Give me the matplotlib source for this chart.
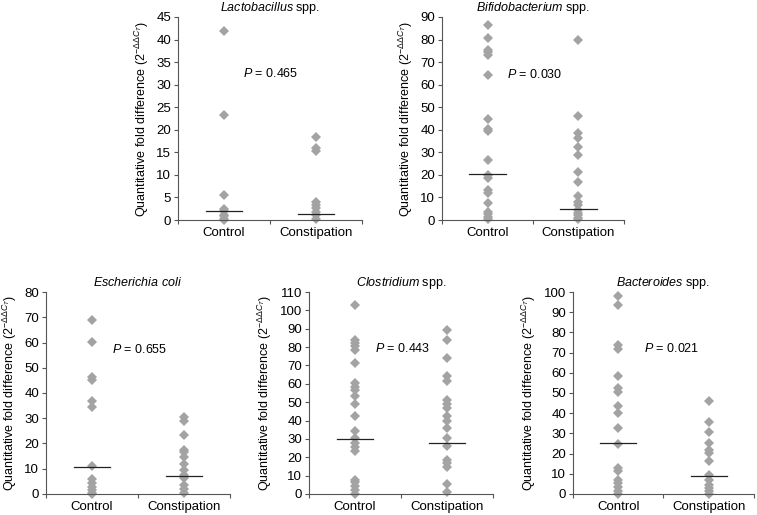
import matplotlib
matplotlib.use('Agg')
import matplotlib.pyplot as plt
import numpy as np

plt.rcParams['font.family'] = ['Liberation Sans', 'DejaVu Sans']
plt.rcParams['mathtext.fontset'] = 'custom'
plt.rcParams['mathtext.rm'] = 'Liberation Sans'
plt.rcParams['mathtext.it'] = 'Liberation Sans:italic'

groups = ['Control', 'Constipation']

# Lactobacillus spp.
lacto_control = [41.9, 23.3, 5.6, 2.5, 2.1, 1.2, 0.8, 0.3, 0.1]
lacto_const = [18.5, 15.9, 15.2, 4.1, 3.3, 2.6, 1.8, 1.1, 0.2]
lacto_median = [2.1, 1.25]

# Bifidobacterium spp.
bifido_control = [86.5, 80.5, 75.5, 74.5, 73, 64.5, 45, 40.5, 39.5, 26.5, 20,
                  18.5, 13.5, 12, 7.5, 3.5, 2.5, 1.5, 0.5]
bifido_const = [80, 46, 38.5, 36.5, 32.5, 29, 21.5, 17, 10.5, 8, 6.5, 4.5, 3,
                2, 1, 0.3]
bifido_median = [20.3, 4.7]

# Escherichia coli
ecoli_control = [69, 60.3, 46.5, 45, 37, 34.5, 11, 5.9, 4.5, 2.6, 1.5, 0.5, 0.1]
ecoli_const = [30.5, 29, 23.5, 17.5, 16.5, 14.5, 12, 9.5, 7.5, 6.5, 3.5, 2, 0.5]
ecoli_median = [10.7, 7.2]

# Clostridium spp.
clost_control = [102.7, 84, 82.2, 80.4, 78.6, 71.3, 60.4, 58.3, 56.8, 53.2, 49,
                 42.3, 34.1, 30.5, 27.8, 25.4, 23.2, 7.8, 6.5, 4.2, 2.4, 0.2]
clost_const = [89.1, 83.7, 74, 64.4, 61.7, 51.4, 49.2, 46.8, 42.3, 39.6, 35.9,
               30.5, 26, 18.7, 16.9, 14.7, 5.6, 0.9]
clost_median = [29.9, 27.6]

# Bacteroides spp.
bact_control = [97.9, 93.4, 73.7, 72, 58.4, 52.6, 50.7, 43.8, 40.3, 32.9, 24.7,
                12.8, 11.2, 7.1, 5.4, 3.5, 1.6, 0.1]
bact_const = [46.1, 35.4, 30.9, 25.2, 21.9, 20.2, 16.1, 9.5, 7.1, 4.6, 2.8,
              1.3, 0.1]
bact_median = [25.0, 8.7]

panels = [
    (r'$\it{Lactobacillus}$ spp.', lacto_control, lacto_const, lacto_median,
     45, 5, '0.465', 32.4),
    (r'$\it{Bifidobacterium}$ spp.', bifido_control, bifido_const, bifido_median,
     90, 10, '0.030', 64.7),
    (r'$\it{Escherichia\ coli}$', ecoli_control, ecoli_const, ecoli_median,
     80, 10, '0.655', 57.4),
    (r'$\it{Clostridium}$ spp.', clost_control, clost_const, clost_median,
     110, 10, '0.443', 79),
    (r'$\it{Bacteroides}$ spp.', bact_control, bact_const, bact_median,
     100, 10, '0.021', 71.8),
]

rects = [
    [0.2351, 0.5728, 0.2431, 0.3942],
    [0.5839, 0.5728, 0.2404, 0.3942],
    [0.0608, 0.0408, 0.2431, 0.3922],
    [0.4082, 0.0408, 0.2431, 0.3922],
    [0.7569, 0.0408, 0.2390, 0.3922],
]
ptext_x = [0.71, 0.71, 0.72, 0.72, 0.78]

fig = plt.figure(figsize=(7.57, 5.15), dpi=100)
axcol = '#555555'
for rect, panel, px in zip(rects, panels, ptext_x):
    title, ctrl, const, med, ymax, step, pval, py = panel
    ax = fig.add_axes(rect)
    for i, vals in enumerate([ctrl, const]):
        ax.plot([i + 0.5] * len(vals), vals, 'D', color='#a3a3a3',
                markersize=5.2, markeredgewidth=0, clip_on=False, zorder=2)
        ax.plot([i + 0.3, i + 0.7], [med[i], med[i]], color='#222222',
                linewidth=0.9, zorder=3)
    ax.set_xlim(0, 2)
    ax.set_ylim(0, ymax)
    ax.set_yticks(np.arange(0, ymax + 1, step))
    ax.set_xticks([0, 1, 2])
    ax.set_xticklabels([])
    ax.set_xticks([0.5, 1.5], minor=True)
    ax.set_xticklabels(groups, minor=True)
    ax.tick_params(axis='x', which='minor', length=0, labelsize=9.5, pad=5)
    ax.tick_params(axis='x', which='major', length=3, color=axcol, direction='out')
    ax.tick_params(axis='y', length=3, color=axcol, labelsize=9.5, pad=2)
    for s in ['top', 'right']:
        ax.spines[s].set_visible(False)
    for s in ['left', 'bottom']:
        ax.spines[s].set_color(axcol)
        ax.spines[s].set_linewidth(0.8)
    ax.set_title(title, fontsize=9, pad=4)
    ax.text(px, py, r'$\it{P}$ = ' + pval, fontsize=9, va='center', ha='left')
    ax.set_ylabel(r'Quantitative fold difference (2$^{-\Delta\Delta C_T}$)',
                  fontsize=9, labelpad=4)

fig.savefig('out.png', dpi=100)
